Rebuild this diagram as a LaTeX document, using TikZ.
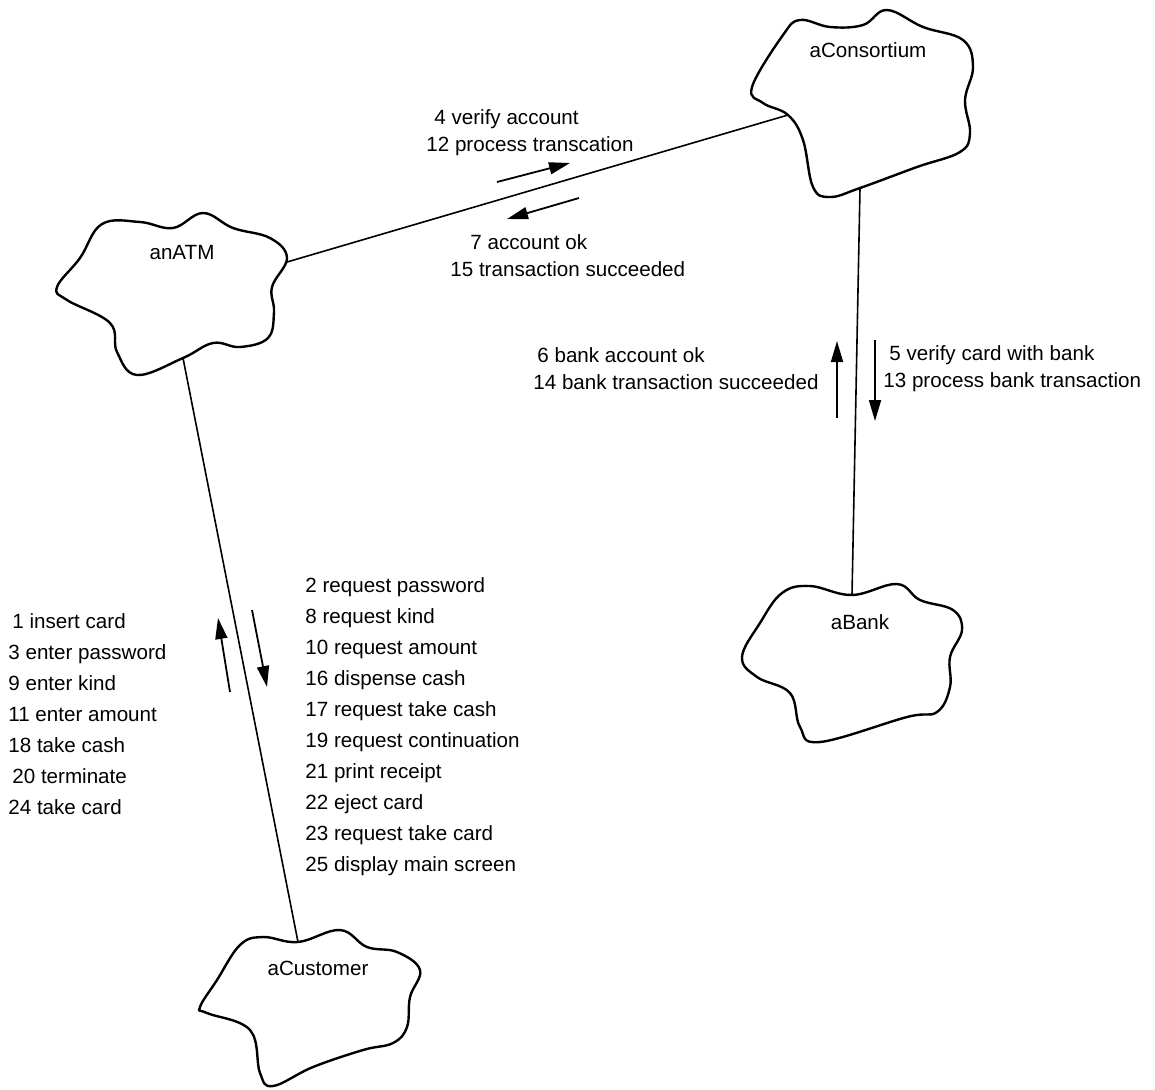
\documentclass[tikz,border=0pt]{standalone}
\usepackage{fontspec}
\setmainfont{Liberation Sans}
\usetikzlibrary{arrows.meta}

\begin{document}
\begin{tikzpicture}[
  x=0.5pt, y=-0.5pt,
  >={Triangle[length=10.5pt,width=6pt]},
  blob/.style={line width=1.2pt, line join=round},
  link/.style={line width=0.8pt},
  msgarrow/.style={->, line width=0.9pt},
  objname/.style={font=\fontsize{10.3}{12}\selectfont, inner sep=0pt},
  msg/.style={font=\fontsize{10.3}{13.6}\selectfont, align=left, anchor=west, inner sep=0pt},
  msglist/.style={font=\fontsize{10.3}{15.5}\selectfont, align=left, anchor=west, inner sep=0pt}
]
\useasboundingbox (0,0) rectangle (1155,1089);

% objects
\draw[blob] plot[smooth cycle, tension=0.65] coordinates {
  (57,287) (80,258) (102,224) (140,222) (173,228) (203,213) (233,228) (270,238)
  (287,258) (272,287) (274,312) (268,338) (240,347) (213,343) (183,358) (137,375)
  (117,352) (110,323) (67,300)};
\coordinate (atm-e) at (287,262);
\coordinate (atm-s) at (183,358);
\node[objname] (atm) at (182,253) {anATM};

\draw[blob] plot[smooth cycle, tension=0.65] coordinates {
  (752,87) (783,35) (800,20) (830,27) (863,25) (887,10) (923,27) (963,40)
  (973,67) (965,100) (970,133) (960,152) (917,167) (860,188) (830,197) (813,187)
  (803,140) (788,115) (763,103)};
\coordinate (cons-w) at (788,115);
\coordinate (cons-s) at (860,188);
\node[objname] (cons) at (868,50) {aConsortium};

\draw[blob] plot[smooth cycle, tension=0.65] coordinates {
  (742,657) (760,623) (782,593) (810,586) (852,595) (897,584) (920,600) (953,610)
  (962,630) (950,657) (950,687) (937,712) (907,717) (820,742) (800,727) (790,693)
  (757,677)};
\coordinate (bank-n) at (852,595);
\node[objname] (bank) at (860,622) {aBank};

\draw[blob] plot[smooth cycle, tension=0.65] coordinates {
  (200,1007) (217,980) (240,945) (263,937) (298,942) (340,930) (367,947) (397,952)
  (420,970) (410,997) (407,1027) (393,1043) (363,1050) (313,1067) (273,1086) (260,1073)
  (250,1030) (207,1013)};
\coordinate (cust-n) at (298,942);
\node[objname] (cust) at (318,968) {aCustomer};

% links
\draw[link] (atm-e) -- (cons-w);
\draw[link] (cons-s) -- (bank-n);
\draw[link] (atm-s) -- (cust-n);

% messages
\draw[msgarrow] (497,182) -- (570,163);
\draw[msgarrow] (579,198) -- (507,219);
\draw[msgarrow] (875,340) -- (875,421);
\draw[msgarrow] (837,418) -- (837,341);
\draw[msgarrow] (252,610) -- (267,687);
\draw[msgarrow] (230,692) -- (218,618);

\node[msg] (verify) at (426,133) {\hspace*{4pt}4 verify account\\12 process transcation};
\node[msg] (accok) at (450,256) {\hspace*{10pt}7 account ok\\15 transaction succeeded};
\node[msg] (bankok) at (533,369) {\hspace*{2pt}6 bank account ok\\14 bank transaction succeeded};
\node[msg] (bankreq) at (883,369) {\hspace*{3pt}5 verify card with bank\\13 process bank transaction};
\node[msglist] (custmsg) at (8,714) {\hspace*{2pt}1 insert card\\3 enter password\\9 enter kind\\11 enter amount\\18 take cash\\\hspace*{2pt}20 terminate\\24 take card};
\node[msglist] (atmmsg) at (305,727) {2 request password\\8 request kind\\10 request amount\\16 dispense cash\\17 request take cash\\19 request continuation\\21 print receipt\\22 eject card\\23 request take card\\25 display main screen};
\end{tikzpicture}
\end{document}
